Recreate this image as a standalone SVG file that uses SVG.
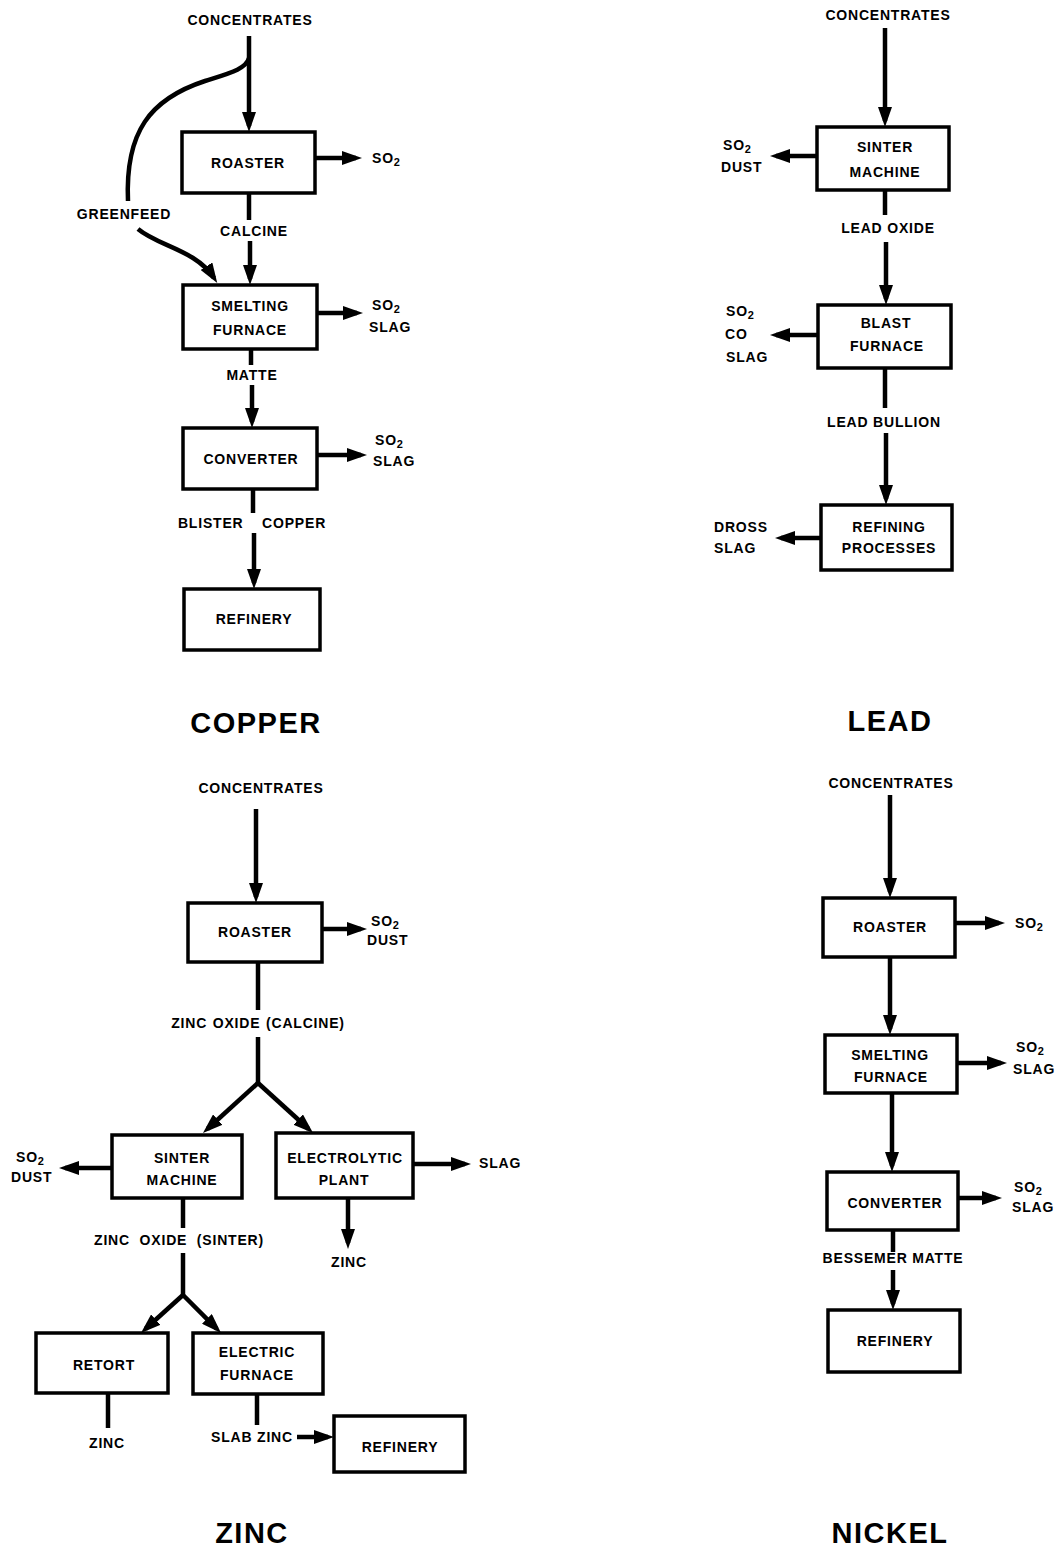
<svg xmlns="http://www.w3.org/2000/svg" width="1056" height="1549" viewBox="0 0 1056 1549">
<style>
.box{fill:#fff;stroke:#000;stroke-width:3.5}
.ln{fill:none;stroke:#000;stroke-width:4.5}
.ar{marker-end:url(#ah)}
text{font-family:"Liberation Sans",Arial,sans-serif;font-weight:bold;font-size:14px;letter-spacing:0.8px;fill:#000}
.c{text-anchor:middle}
.sub{font-size:11px}
.title{font-size:29px;letter-spacing:1.5px}
</style>
<defs>
<marker id="ah" markerUnits="userSpaceOnUse" markerWidth="20" markerHeight="14" refX="14" refY="7" orient="auto" viewBox="0 0 20 14">
<path d="M0,0 L20,7 L0,14 z" fill="#000"/>
</marker>
</defs>
<rect width="1056" height="1549" fill="#fff"/>

<g id="connectors">
<!-- copper -->
<path class="ln ar" d="M249,36 V126"/>
<path class="ln ar" d="M315,158 H356"/>
<path class="ln" d="M249,58 C246,69 230,73 205,81 C150,99 125,132 128,201"/>
<path class="ln ar" d="M138,229 C158,246 196,250 214,278"/>
<path class="ln" d="M249,193 V220"/>
<path class="ln ar" d="M250,241 V279"/>
<path class="ln ar" d="M317,313 H357"/>
<path class="ln" d="M251,349 V365"/>
<path class="ln ar" d="M252,385 V422"/>
<path class="ln ar" d="M317,455 H361"/>
<path class="ln" d="M253,489 V513"/>
<path class="ln ar" d="M254,533 V583"/>
<!-- lead -->
<path class="ln ar" d="M885,28 V121"/>
<path class="ln ar" d="M817,156 H776"/>
<path class="ln" d="M885,190 V215"/>
<path class="ln ar" d="M886,242 V299"/>
<path class="ln ar" d="M818,335 H776"/>
<path class="ln" d="M885,368 V408"/>
<path class="ln ar" d="M886,433 V499"/>
<path class="ln ar" d="M821,538 H781"/>
<!-- zinc -->
<path class="ln ar" d="M256,809 V897"/>
<path class="ln ar" d="M322,929 H361"/>
<path class="ln" d="M258,962 V1010"/>
<path class="ln" d="M258,1037 V1083"/>
<path class="ln ar" d="M258,1083 L207.4,1129"/>
<path class="ln ar" d="M258,1083 L308.6,1129"/>
<path class="ln ar" d="M112,1168 H65"/>
<path class="ln ar" d="M413,1164 H465"/>
<path class="ln ar" d="M348,1198 V1243"/>
<path class="ln" d="M183,1198 V1228"/>
<path class="ln" d="M183,1253 V1295"/>
<path class="ln ar" d="M183,1295 L145.4,1329"/>
<path class="ln ar" d="M183,1295 L216.8,1328.8"/>
<path class="ln" d="M108,1393 V1428"/>
<path class="ln" d="M257,1394 V1425"/>
<path class="ln ar" d="M297,1437 H328"/>
<!-- nickel -->
<path class="ln ar" d="M890,795 V892"/>
<path class="ln ar" d="M955,923 H999"/>
<path class="ln ar" d="M890,957 V1029"/>
<path class="ln ar" d="M957,1063 H1001"/>
<path class="ln ar" d="M892,1093 V1166"/>
<path class="ln ar" d="M958,1198 H996"/>
<path class="ln" d="M893,1230 V1252"/>
<path class="ln ar" d="M893,1270 V1304"/>
</g>

<!-- COPPER -->
<g id="cu-concentrates"><text class="c" x="250" y="25">CONCENTRATES</text></g>
<g id="cu-roaster"><rect class="box" x="182" y="132" width="133" height="61"/><text class="c" x="248" y="168">ROASTER</text></g>
<g id="cu-so2-1"><text x="372" y="163">SO<tspan class="sub" dy="3">2</tspan></text></g>
<g id="cu-greenfeed"><text class="c" x="124" y="219">GREENFEED</text></g>
<g id="cu-calcine"><text class="c" x="254" y="236">CALCINE</text></g>
<g id="cu-smelting"><rect class="box" x="183" y="285" width="134" height="64"/><text class="c" x="250" y="311">SMELTING</text><text class="c" x="250" y="335">FURNACE</text></g>
<g id="cu-so2-2"><text x="372" y="310">SO<tspan class="sub" dy="3">2</tspan></text><text x="369" y="332">SLAG</text></g>
<g id="cu-matte"><text class="c" x="252" y="380">MATTE</text></g>
<g id="cu-converter"><rect class="box" x="183" y="428" width="134" height="61"/><text class="c" x="251" y="464">CONVERTER</text></g>
<g id="cu-so2-3"><text x="375" y="445">SO<tspan class="sub" dy="3">2</tspan></text><text x="373" y="466">SLAG</text></g>
<g id="cu-blister"><text class="c" x="252" y="528" style="word-spacing:14px">BLISTER COPPER</text></g>
<g id="cu-refinery"><rect class="box" x="184" y="589" width="136" height="61"/><text class="c" x="254" y="624">REFINERY</text></g>
<text class="c title" x="256" y="733">COPPER</text>

<!-- LEAD -->
<g id="pb-concentrates"><text class="c" x="888" y="20">CONCENTRATES</text></g>
<g id="pb-sinter"><rect class="box" x="817" y="127" width="132" height="63"/><text class="c" x="885" y="152">SINTER</text><text class="c" x="885" y="177">MACHINE</text></g>
<g id="pb-so2-1"><text x="723" y="150">SO<tspan class="sub" dy="3">2</tspan></text><text x="721" y="172">DUST</text></g>
<g id="pb-leadoxide"><text class="c" x="888" y="233">LEAD OXIDE</text></g>
<g id="pb-blast"><rect class="box" x="818" y="305" width="133" height="63"/><text class="c" x="886" y="328">BLAST</text><text class="c" x="887" y="351">FURNACE</text></g>
<g id="pb-so2-2"><text x="726" y="316">SO<tspan class="sub" dy="3">2</tspan></text><text x="725" y="339">CO</text><text x="726" y="362">SLAG</text></g>
<g id="pb-bullion"><text class="c" x="884" y="427">LEAD BULLION</text></g>
<g id="pb-refining"><rect class="box" x="821" y="505" width="131" height="65"/><text class="c" x="889" y="532">REFINING</text><text class="c" x="889" y="553">PROCESSES</text></g>
<g id="pb-dross"><text x="714" y="532">DROSS</text><text x="714" y="553">SLAG</text></g>
<text class="c title" x="890" y="731">LEAD</text>

<!-- ZINC -->
<g id="zn-concentrates"><text class="c" x="261" y="793">CONCENTRATES</text></g>
<g id="zn-roaster"><rect class="box" x="188" y="903" width="134" height="59"/><text class="c" x="255" y="937">ROASTER</text></g>
<g id="zn-so2-1"><text x="371" y="926">SO<tspan class="sub" dy="3">2</tspan></text><text x="367" y="945">DUST</text></g>
<g id="zn-calcine"><text class="c" x="258" y="1028" style="word-spacing:1px">ZINC OXIDE (CALCINE)</text></g>
<g id="zn-sinter"><rect class="box" x="112" y="1135" width="130" height="63"/><text class="c" x="182" y="1163">SINTER</text><text class="c" x="182" y="1185">MACHINE</text></g>
<g id="zn-so2-2"><text x="16" y="1162">SO<tspan class="sub" dy="3">2</tspan></text><text x="11" y="1182">DUST</text></g>
<g id="zn-electrolytic"><rect class="box" x="276" y="1133" width="137" height="65"/><text class="c" x="345" y="1163">ELECTROLYTIC</text><text class="c" x="344" y="1185">PLANT</text></g>
<g id="zn-slag"><text x="479" y="1168">SLAG</text></g>
<g id="zn-zinc-1"><text class="c" x="349" y="1267">ZINC</text></g>
<g id="zn-sinterlabel"><text class="c" x="179" y="1245" style="word-spacing:5px">ZINC OXIDE (SINTER)</text></g>
<g id="zn-retort"><rect class="box" x="36" y="1333" width="132" height="60"/><text class="c" x="104" y="1370">RETORT</text></g>
<g id="zn-electric"><rect class="box" x="193" y="1333" width="130" height="61"/><text class="c" x="257" y="1357">ELECTRIC</text><text class="c" x="257" y="1380">FURNACE</text></g>
<g id="zn-zinc-2"><text class="c" x="107" y="1448">ZINC</text></g>
<g id="zn-slabzinc"><text class="c" x="252" y="1442">SLAB ZINC</text></g>
<g id="zn-refinery"><rect class="box" x="334" y="1416" width="131" height="56"/><text class="c" x="400" y="1452">REFINERY</text></g>
<text class="c title" x="252" y="1543">ZINC</text>

<!-- NICKEL -->
<g id="ni-concentrates"><text class="c" x="891" y="788">CONCENTRATES</text></g>
<g id="ni-roaster"><rect class="box" x="823" y="898" width="132" height="59"/><text class="c" x="890" y="932">ROASTER</text></g>
<g id="ni-so2-1"><text x="1015" y="928">SO<tspan class="sub" dy="3">2</tspan></text></g>
<g id="ni-smelting"><rect class="box" x="825" y="1035" width="132" height="58"/><text class="c" x="890" y="1060">SMELTING</text><text class="c" x="891" y="1082">FURNACE</text></g>
<g id="ni-so2-2"><text x="1016" y="1052">SO<tspan class="sub" dy="3">2</tspan></text><text x="1013" y="1074">SLAG</text></g>
<g id="ni-converter"><rect class="box" x="827" y="1172" width="131" height="58"/><text class="c" x="895" y="1208">CONVERTER</text></g>
<g id="ni-so2-3"><text x="1014" y="1192">SO<tspan class="sub" dy="3">2</tspan></text><text x="1012" y="1212">SLAG</text></g>
<g id="ni-bessemer"><text class="c" x="893" y="1263">BESSEMER MATTE</text></g>
<g id="ni-refinery"><rect class="box" x="828" y="1310" width="132" height="62"/><text class="c" x="895" y="1346">REFINERY</text></g>
<text class="c title" x="890" y="1543">NICKEL</text>
</svg>
